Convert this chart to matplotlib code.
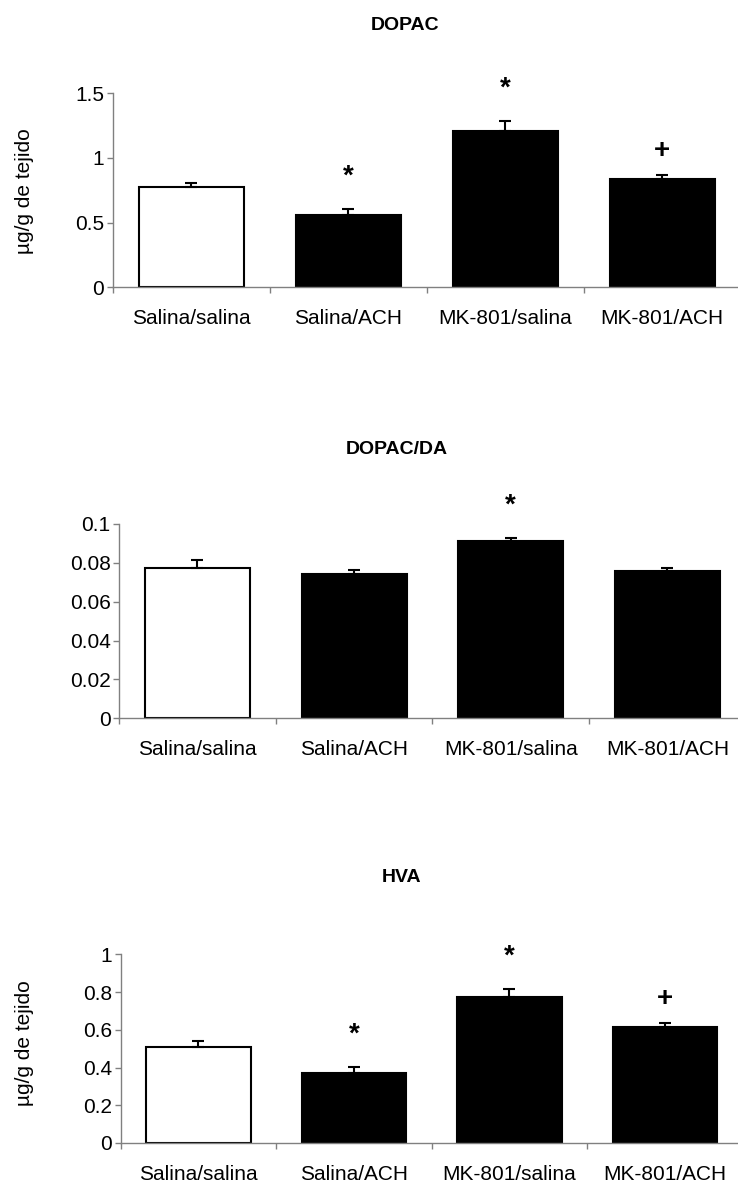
import matplotlib
matplotlib.use("Agg")
import matplotlib.pyplot as plt
from matplotlib.ticker import FuncFormatter, FixedLocator

plt.rcParams['font.family'] = ['Liberation Sans', 'DejaVu Sans']

categories = ["Salina/salina", "Salina/ACH", "MK-801/salina", "MK-801/ACH"]
bar_colors = ["white", "black", "black", "black"]

dopac_mean = [0.775, 0.56, 1.21, 0.84]
dopac_err = [0.03, 0.045, 0.075, 0.025]
dopac_marks = ["", "*", "*", "+"]
dopac_yticks = [0, 0.5, 1, 1.5]

ratio_mean = [0.0774, 0.0744, 0.0911, 0.0757]
ratio_err = [0.0041, 0.0019, 0.0017, 0.0017]
ratio_marks = ["", "", "*", ""]
ratio_yticks = [0, 0.02, 0.04, 0.06, 0.08, 0.1]

hva_mean = [0.51, 0.373, 0.775, 0.616]
hva_err = [0.032, 0.031, 0.041, 0.018]
hva_marks = ["", "*", "*", "+"]
hva_yticks = [0, 0.2, 0.4, 0.6, 0.8, 1]

W, H = 738, 1187
fig = plt.figure(figsize=(W / 100, H / 100), dpi=100)


def px_axes(left, right, top, bottom):
    return fig.add_axes([left / W, 1 - bottom / H, (right - left) / W, (bottom - top) / H])


panels = [
    dict(box=(112.7, 740.7, 93.3, 287.3), mean=dopac_mean, err=dopac_err, marks=dopac_marks,
         yticks=dopac_yticks, title="DOPAC", title_xy=(405, 25), ylabel=True, ylabel_y=191),
    dict(box=(119, 745.8, 524, 718.3), mean=ratio_mean, err=ratio_err, marks=ratio_marks,
         yticks=ratio_yticks, title="DOPAC/DA", title_xy=(397, 449), ylabel=False, ylabel_y=None),
    dict(box=(120.7, 742.7, 954.3, 1143), mean=hva_mean, err=hva_err, marks=hva_marks,
         yticks=hva_yticks, title="HVA", title_xy=(402, 877), ylabel=True, ylabel_y=1043),
]

mark_offset = {"*": 18, "+": 12.5}

axis_grey = "#808080"
x = list(range(len(categories)))

for p in panels:
    ax = px_axes(*p["box"])
    ax.bar(x, p["mean"], width=0.67, color=bar_colors, edgecolor="black", linewidth=1.5, zorder=2)
    ax.errorbar(x, p["mean"], yerr=[[0] * len(x), p["err"]], fmt="none", ecolor="black",
                elinewidth=1.5, capsize=4, capthick=1.5, zorder=3)
    for i, m in enumerate(p["marks"]):
        if m:
            ax.annotate(m, xy=(i, p["mean"][i] + p["err"][i]), xytext=(0, mark_offset[m]),
                        textcoords="offset points", ha="center", va="baseline",
                        fontsize=20, fontweight="bold", annotation_clip=False)
    ax.set_xlim(-0.5, 3.5)
    ax.set_ylim(p["yticks"][0], p["yticks"][-1])
    ax.yaxis.set_major_locator(FixedLocator(p["yticks"]))
    ax.yaxis.set_major_formatter(FuncFormatter(lambda v, pos: "{:g}".format(round(v, 4))))
    ax.xaxis.set_major_locator(FixedLocator([-0.5, 0.5, 1.5, 2.5, 3.5]))
    ax.xaxis.set_major_formatter(FuncFormatter(lambda v, pos: ""))
    ax.set_xticks(x, minor=True)
    ax.set_xticklabels(categories, minor=True)
    ax.tick_params(axis="x", which="minor", length=0, pad=15.5, labelsize=15)
    ax.tick_params(axis="x", which="major", length=4, width=1, color=axis_grey, direction="out")
    ax.tick_params(axis="y", length=4.5, width=1, color=axis_grey, pad=1.5, labelsize=15)
    for s in ["top", "right"]:
        ax.spines[s].set_visible(False)
    for s in ["left", "bottom"]:
        ax.spines[s].set_color(axis_grey)
        ax.spines[s].set_linewidth(1.0)
    ax.set_facecolor("none")
    fig.text(p["title_xy"][0] / W, 1 - p["title_xy"][1] / H, p["title"], ha="center", va="center",
             fontsize=14, fontweight="bold")
    if p["ylabel"]:
        fig.text(25 / W, 1 - p["ylabel_y"] / H, "µg/g de tejido", rotation=90,
                 ha="center", va="center", fontsize=15)

fig.savefig("out.png", dpi=100)
